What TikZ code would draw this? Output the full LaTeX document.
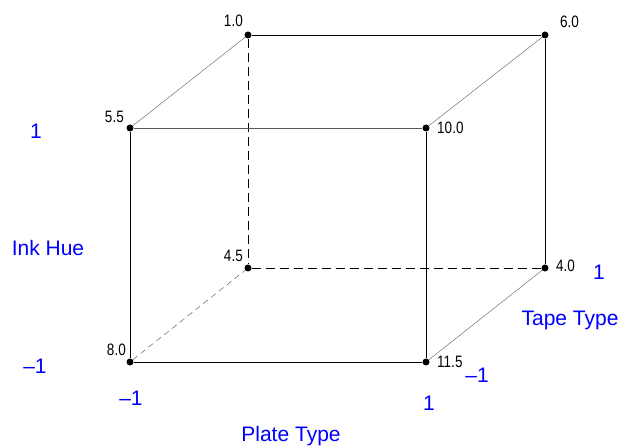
\documentclass[tikz,border=0pt]{standalone}
\usepackage{fontspec}
\setmainfont{Liberation Sans}
\newfontfamily\narrowsans[FakeStretch=0.82]{Liberation Sans}
\usetikzlibrary{positioning}

\begin{document}
\begin{tikzpicture}[
    x=1pt, y=1pt,
    corner/.style={circle, fill=black, inner sep=0pt, minimum size=7pt},
    value/.style={font=\narrowsans\fontsize{16.5}{16.5}\selectfont, inner sep=1pt},
    factor/.style={font=\fontsize{21}{21}\selectfont, text=blue, inner sep=0pt},
    edge/.style={black, line width=0.9pt},
    depth/.style={black!55, line width=0.5pt},
    hidden/.style={black, line width=0.8pt, dash pattern=on 9pt off 5pt},
    hiddendepth/.style={black!60, line width=0.5pt, dash pattern=on 6pt off 4pt}
]
\useasboundingbox (0,0) rectangle (621,446);
% cube corners
\node[corner] (c1)   at (248,411) {};
\node[corner] (c6)   at (545,411) {};
\node[corner] (c55)  at (130,318) {};
\node[corner] (c10)  at (426,318) {};
\node[corner] (c45)  at (248,178) {};
\node[corner] (c4)   at (545,178) {};
\node[corner] (c8)   at (130,84)  {};
\node[corner] (c115) at (426,84)  {};
% response values
\node[value, above left=7pt and 4pt of c1.center]   (l1)   {1.0};
\node[value, above right=6pt and 14pt of c6.center] (l6)   {6.0};
\node[value, above left=4pt and 5pt of c55.center]  (l55)  {5.5};
\node[value, right=10pt of c10.center]              (l10)  {10.0};
\node[value, above left=5pt and 4pt of c45.center]  (l45)  {4.5};
\node[value, right=10pt of c4.center, yshift=2pt]   (l4)   {4.0};
\node[value, above left=5pt and 3pt of c8.center]   (l8)   {8.0};
\node[value, right=10pt of c115.center]             (l115) {11.5};
% hidden edges
\draw[hidden] (c1) -- (c45);
\draw[hidden] (c45) -- (c4);
\draw[hiddendepth] (c8) -- (c45);
% visible edges
\draw[edge] (c1) -- (c6); \draw[edge] (c6) -- (c4);
\draw[edge, black!65] (c55) -- (c10);
\draw[edge] (c10) -- (c115); \draw[edge] (c115) -- (c8);
\draw[edge] (c8) -- (c55);
\draw[depth] (c55) -- (c1); \draw[depth] (c10) -- (c6);
\draw[depth] (c115) -- (c4);
% factor axes
\node[factor] (ihhi) at (36,315)  {1};
\node[factor] (ih)   at (48,198)  {Ink Hue};
\node[factor] (ihlo) at (35,80)   {–1};
\node[factor] (ptlo) at (131,48)  {–1};
\node[factor] (pthi) at (429,43)  {1};
\node[factor] (pt)   at (291,10)  {Plate Type};
\node[factor] (tthi) at (599,174) {1};
\node[factor] (tt)   at (570,126) {Tape Type};
\node[factor] (ttlo) at (477,71)  {–1};
\end{tikzpicture}
\end{document}
